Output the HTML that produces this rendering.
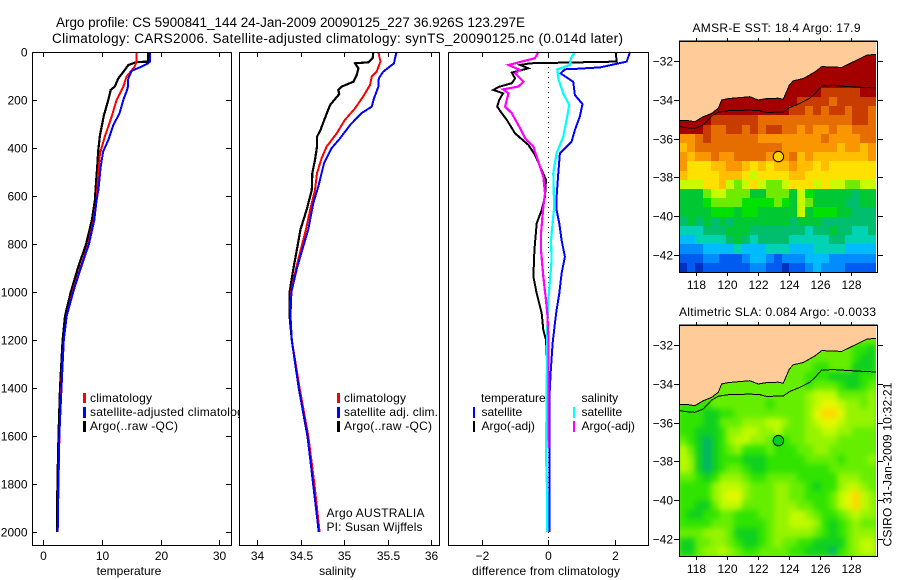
<!DOCTYPE html>
<html lang="en">
<head>
<meta charset="utf-8">
<title>Argo profile</title>
<style>
html,body{margin:0;padding:0;background:#fff;width:900px;height:580px;overflow:hidden}
svg{display:block}
text{font-family:"Liberation Sans",sans-serif;font-size:12px;fill:#000}
.frame{fill:none;stroke:#000;stroke-width:1;shape-rendering:crispEdges}
.mark{fill:none;stroke-linejoin:miter;shape-rendering:crispEdges}
.tick{stroke:#000;stroke-width:1;shape-rendering:crispEdges}
.key{shape-rendering:crispEdges}
</style>
</head>
<body>
<svg id="figure" width="900" height="580" viewBox="0 0 900 580" xmlns="http://www.w3.org/2000/svg">
  <defs>
    <clipPath id="clip-first-panel"><rect x="0" y="0" width="239" height="580"/></clipPath>
    <clipPath id="clip-sla-map"><rect x="679" y="325" width="198" height="231"/></clipPath>
    <filter id="sla-soft" x="-5%" y="-5%" width="110%" height="110%" color-interpolation-filters="sRGB">
      <feGaussianBlur stdDeviation="3"/>
    </filter>
  </defs>
  <text x="56" y="27" style="font-size:13.5px" textLength="469" lengthAdjust="spacing">Argo profile: CS 5900841_144 24-Jan-2009 20090125_227 36.926S 123.297E</text>
  <text x="52" y="43" style="font-size:13.5px" textLength="571" lengthAdjust="spacing">Climatology: CARS2006. Satellite-adjusted climatology: synTS_20090125.nc (0.014d later)</text>

  <g id="temp-legend" clip-path="url(#clip-first-panel)">
    <rect class="key" x="83" y="393" width="3" height="10" fill="#f00"/>
    <text x="90" y="402" textLength="62">climatology</text>
    <rect class="key" x="83" y="407" width="3" height="11" fill="#00f"/>
    <text x="90" y="416" textLength="160">satellite-adjusted climatology</text>
    <rect class="key" x="83" y="421" width="3" height="11" fill="#000"/>
    <text x="90" y="430" textLength="88">Argo(..raw -QC)</text>
  </g>
  <g id="sal-legend">
    <rect class="key" x="337" y="393" width="3" height="10" fill="#f00"/>
    <text x="344" y="402" textLength="62">climatology</text>
    <rect class="key" x="337" y="407" width="3" height="11" fill="#00f"/>
    <text x="344" y="416" textLength="94">satellite adj. clim.</text>
    <rect class="key" x="337" y="421" width="3" height="11" fill="#000"/>
    <text x="344" y="430" textLength="88">Argo(..raw -QC)</text>
    <text x="326.500" y="517" textLength="98">Argo AUSTRALIA</text>
    <text x="326.500" y="531" textLength="96">PI: Susan Wijffels</text>
  </g>
  <g id="diff-legend">
    <text x="481" y="402">temperature</text>
    <rect class="key" x="473" y="407" width="2" height="11" fill="#00f"/>
    <text x="481.500" y="416">satellite</text>
    <rect class="key" x="473" y="421" width="2" height="11" fill="#000"/>
    <text x="481.500" y="430">Argo(-adj)</text>
    <text x="581.500" y="402">salinity</text>
    <rect class="key" x="573" y="407" width="2" height="11" fill="#0ff"/>
    <text x="581.500" y="416">satellite</text>
    <rect class="key" x="573" y="421" width="2" height="11" fill="#f0f"/>
    <text x="581.500" y="430">Argo(-adj)</text>
  </g>

  <g id="temp-panel"></g>
  <g id="sal-panel"></g>
  <g id="diff-panel"></g>

  <rect class="frame" x="32.500" y="52.500" width="199" height="493"/>
  <rect class="frame" x="239.500" y="52.500" width="200" height="493"/>
  <rect class="frame" x="448.500" y="52.500" width="200" height="493"/>

  <text x="129" y="575" text-anchor="middle">temperature</text>
  <text x="337.500" y="575" text-anchor="middle">salinity</text>
  <text x="546" y="575" text-anchor="middle" textLength="148">difference from climatology</text>

  <text x="692.500" y="32" textLength="168">AMSR-E SST: 18.4 Argo: 17.9</text>
  <text x="679" y="316" textLength="197">Altimetric SLA: 0.084 Argo: -0.0033</text>
  <g id="sst-map"></g>
  <g id="sla-map"></g>
  <text transform="translate(891.500,546.500) rotate(-90)" textLength="164">CSIRO 31-Jan-2009 10:32:21</text>
</svg>

<script>
var depthTicks = [0, 200, 400, 600, 800, 1000, 1200, 1400, 1600, 1800, 2000];
var tempTicks = [0, 10, 20, 30];
var salTicks = [34, 34.5, 35, 35.5, 36];
var diffTicks = [-2, 0, 2];
var lonTicks = [118, 120, 122, 124, 126, 128];
var latTicks = [-32, -34, -36, -38, -40, -42];

var tempArgoDepths = [0, 40, 42, 54, 75, 110, 144, 158, 200, 262, 346, 408, 478, 575, 617, 700, 800, 900, 1000, 1100, 1200, 1400, 1600, 1800, 2000];
var tempArgoValues = [17.9, 17.9, 15.9, 14.5, 13.9, 12.8, 12.2, 11.5, 11.1, 10.35, 9.67, 9.39, 9.2, 8.9, 8.8, 8.3, 7.3, 5.9, 4.7, 3.7, 3.3, 2.85, 2.6, 2.4, 2.35];
var tempClimDepths = [0, 40, 61, 103, 144, 200, 270, 353, 422, 505, 617, 700, 800, 900, 1000, 1100, 1200, 1400, 1600, 1800, 2000];
var tempClimValues = [15.9, 15.9, 15.6, 14.2, 13.65, 12.5, 11.66, 10.5, 9.67, 9.39, 9.1, 8.6, 7.7, 6.3, 5.0, 4.0, 3.5, 3.05, 2.75, 2.6, 2.45];
var tempSatDepths = [0, 40, 47, 61, 78, 110, 151, 200, 256, 304, 367, 415, 478, 575, 617, 700, 800, 900, 1000, 1100, 1200, 1400, 1600, 1800, 2000];
var tempSatValues = [18.2, 18.2, 17.9, 16.8, 15.1, 14.5, 14.4, 13.65, 13, 11.95, 11.1, 10.2, 9.8, 9.4, 9.1, 8.7, 7.8, 6.4, 5.1, 4.0, 3.5, 3.1, 2.73, 2.56, 2.45];

var salArgoDepths = [0, 26, 43, 47, 68, 96, 124, 144, 158, 175, 221, 276, 325, 353, 394, 450, 505, 575, 658, 739, 800, 900, 1000, 1100, 1200, 1400, 1600, 1800, 2000];
var salArgoValues = [35.337, 35.33, 35.28, 35.126, 35.165, 35.146, 35.107, 34.973, 34.935, 34.946, 34.84, 34.78, 34.73, 34.69, 34.69, 34.667, 34.636, 34.63, 34.57, 34.5, 34.47, 34.42, 34.375, 34.375, 34.4, 34.48, 34.58, 34.65, 34.71];
var salClimDepths = [0, 19, 40, 82, 103, 137, 186, 235, 283, 339, 394, 443, 505, 575, 658, 739, 800, 900, 1000, 1100, 1200, 1400, 1600, 1800, 2000];
var salClimValues = [35.395, 35.406, 35.42, 35.375, 35.318, 35.3, 35.22, 35.126, 35.01, 34.916, 34.8, 34.743, 34.69, 34.667, 34.61, 34.563, 34.52, 34.45, 34.39, 34.385, 34.4, 34.49, 34.59, 34.66, 34.72];
var salSatDepths = [0, 26, 47, 82, 110, 144, 193, 228, 255, 304, 360, 401, 464, 561, 630, 739, 800, 900, 1000, 1100, 1200, 1400, 1600, 1800, 2000];
var salSatValues = [35.605, 35.586, 35.575, 35.45, 35.4, 35.395, 35.345, 35.318, 35.2, 35.07, 34.954, 34.858, 34.77, 34.705, 34.647, 34.59, 34.54, 34.46, 34.395, 34.385, 34.4, 34.48, 34.58, 34.645, 34.71];

var diffTempArgoDepths = [0, 40, 47, 54, 68, 86, 110, 130, 144, 158, 172, 200, 228, 255, 283, 339, 387, 429, 492, 533, 603, 658, 714, 825, 936, 1006, 1089, 1158, 1200, 1311, 1500];
var diffTempArgoValues = [2.03, 2.06, -0.55, -0.85, -0.6, -1.1, -1.0, -1.1, -1.46, -1.66, -1.36, -1.48, -1.54, -1.4, -1.25, -1.0, -0.6, -0.4, -0.2, -0.07, -0.1, -0.2, -0.35, -0.42, -0.45, -0.35, -0.2, -0.15, -0.07, -0.03, 0];
var diffTempSatDepths = [0, 40, 64, 71, 72, 89, 124, 179, 217, 269, 325, 374, 422, 505, 603, 658, 714, 784, 853, 922, 1006, 1075, 1131, 1214, 1339, 1448, 2000];
var diffTempSatValues = [2.46, 2.36, 1.56, 0.75, 0.5, 0.37, 0.75, 0.8, 1.03, 0.95, 0.8, 0.7, 0.35, 0.3, 0.25, 0.25, 0.33, 0.4, 0.5, 0.4, 0.33, 0.25, 0.2, 0.13, 0.07, 0.03, 0.03];
var diffSalSatDepths = [0, 26, 54, 72, 110, 172, 221, 283, 353, 422, 505, 603, 658, 714, 784, 867, 950, 1034, 1145, 1450, 1680, 1850, 2000];
var diffSalSatValues = [0.8, 0.68, 0.65, 0.27, 0.3, 0.45, 0.63, 0.55, 0.45, 0.25, 0.15, 0.17, 0.17, 0.13, 0.08, 0.1, 0.05, 0, -0.03, -0.05, -0.07, -0.03, -0.03];
var diffSalArgoDepths = [0, 26, 54, 75, 89, 124, 144, 156, 172, 228, 255, 318, 360, 394, 457, 519, 589, 645, 756, 825, 936, 1034, 1089, 1200, 1650];
var diffSalArgoValues = [-0.3, -0.4, -1.2, -0.85, -1, -0.75, -0.9, -1.36, -1.2, -1.3, -1.1, -0.85, -0.7, -0.45, -0.3, -0.15, -0.1, -0.15, -0.22, -0.22, -0.15, -0.07, -0.03, 0.01, 0.01];

var coastLons = [116.9, 117.38, 117.91, 118.45, 118.99, 119.42, 119.63, 120.06, 120.71, 121.46, 122.0, 122.54, 123.29, 123.61, 124.0, 124.26, 124.9, 125.66, 126.09, 127.38, 128.13, 128.99, 129.63];
var coastLats = [-35.06, -35.06, -35.13, -34.87, -34.7, -34.44, -34.01, -33.94, -33.89, -33.84, -34.01, -33.94, -33.92, -33.97, -33.24, -33.02, -32.9, -32.56, -32.29, -32.33, -32.04, -31.7, -31.65];
var shelfLons = [116.9, 117.38, 117.91, 118.45, 118.99, 119.42, 120.06, 121.46, 122.11, 122.54, 123.61, 124.04, 124.69, 125.33, 125.66, 126.09, 126.84, 127.91, 128.77, 129.63];
var shelfLats = [-35.38, -35.44, -35.47, -35.3, -34.84, -34.64, -34.56, -34.53, -34.56, -34.65, -34.63, -34.39, -34.18, -33.92, -33.67, -33.29, -33.27, -33.32, -33.36, -33.39];
var floatLon = 123.297;
var floatLat = -36.926;

var sstLevels = [
[15,15,15,15,15,15,15,15,15,15,15,15,15,15,15,15,15,15,15,15,15,15,15,15,15],
[15,15,15,15,15,15,15,15,15,15,15,15,15,15,15,15,15,15,15,15,15,15,15,15,15],
[15,15,15,15,15,15,15,15,15,15,15,15,15,15,15,15,15,15,15,15,15,15,15,15,15],
[15,15,15,15,15,15,15,15,15,15,15,15,15,15,15,15,15,15,15,15,15,15,15,15,15],
[15,15,15,15,15,15,15,15,15,15,15,15,15,15,15,15,15,15,15,15,15,15,15,15,15],
[15,15,15,15,15,15,15,15,15,15,15,15,15,15,15,15,15,15,14,14,14,14,14,15,15],
[15,15,15,15,15,15,15,15,15,15,15,15,15,15,15,14,14,14,14,13,14,14,14,14,14],
[15,15,15,15,15,15,15,15,15,15,15,15,15,15,14,14,13,14,13,14,14,13,14,14,13],
[15,15,15,15,14,14,14,14,14,14,13,13,13,13,13,13,13,13,13,13,13,13,14,14,13],
[15,15,15,14,13,13,14,14,13,14,13,14,14,13,13,12,13,12,12,13,12,12,13,13,13],
[12,12,13,14,13,13,13,13,13,13,12,12,12,12,12,12,12,12,13,12,12,12,12,13,13],
[11,12,13,13,13,13,13,13,13,13,13,13,13,12,12,12,12,12,12,12,11,12,12,11,12],
[12,11,12,12,13,12,12,13,13,13,13,12,12,12,13,11,12,11,11,11,11,11,11,11,12],
[12,10,10,10,11,11,12,12,11,10,11,10,11,11,12,11,11,10,11,10,10,10,10,10,10],
[11,10,10,10,10,11,11,11,10,9,10,10,10,10,11,11,10,10,10,10,10,10,10,10,10],
[9,9,9,10,10,11,9,8,9,10,9,8,8,9,10,10,10,9,10,9,9,8,8,9,9],
[6,6,6,8,9,9,8,8,8,6,6,8,8,8,6,9,7,6,6,6,6,6,5,6,6],
[6,6,6,7,8,8,8,8,7,7,7,7,8,7,6,9,8,6,6,6,6,5,5,6,6],
[6,6,6,6,7,7,7,6,7,7,6,6,6,6,6,9,6,7,7,7,6,6,5,5,5],
[5,6,5,6,5,6,5,6,6,6,6,6,6,6,5,6,6,6,5,5,5,5,5,5,5],
[4,4,4,5,5,5,6,6,6,5,5,5,5,5,5,5,4,5,5,6,5,5,4,4,5],
[3,3,4,4,4,4,5,6,5,4,5,5,5,5,4,4,4,4,4,5,5,4,4,4,4],
[2,2,2,3,3,3,3,4,3,3,3,4,4,4,3,3,3,4,4,4,4,3,3,3,3],
[1,1,1,2,2,1,1,1,2,3,3,2,1,2,2,2,3,3,3,2,2,2,2,2,2],
[0,1,0,1,1,1,1,1,1,2,2,1,1,0,1,1,2,3,2,2,2,1,1,1,1]
];

var slaLevels = [
[3,3,3,3,3,3,3,3,3,3,3,3,3,3,3,3,3,3,3,3,3,3,3,3,3],
[3,3,3,3,3,3,3,3,3,3,3,3,3,3,3,3,3,3,3,3,3,3,3,3,3],
[3,3,3,3,3,3,3,3,3,3,3,3,3,3,3,3,3,3,3,3,3,3,2,2,1],
[3,3,3,3,3,3,3,3,3,3,3,3,3,3,3,3,3,3,3,3,3,3,2,1,1],
[3,3,3,3,3,3,3,3,3,3,3,3,3,3,3,3,3,2,2,3,3,3,1,1,1],
[3,3,3,3,3,3,3,3,3,3,3,3,3,3,3,3,2,2,2,1,1,1,1,2,2],
[3,3,3,3,3,3,3,3,3,3,3,3,3,3,3,3,2,3,3,3,2,1,1,2,3],
[3,3,3,3,3,3,3,3,3,3,3,3,3,3,3,3,4,5,5,5,3,3,3,3,4],
[2,2,2,2,3,3,3,3,3,3,3,2,3,3,3,3,4,5,6,6,5,4,4,3,4],
[2,2,2,1,1,2,2,3,3,3,3,3,3,3,3,3,4,6,7,7,6,4,4,4,4],
[2,2,2,1,1,3,3,3,4,4,4,5,5,4,3,3,4,5,6,6,5,4,4,4,4],
[2,2,1,1,1,2,4,4,5,5,4,4,5,3,3,3,4,4,5,5,4,4,3,3,3],
[3,2,1,0,1,2,4,5,5,4,4,3,2,2,3,3,4,4,4,4,3,3,3,3,3],
[5,3,1,0,1,2,3,4,2,2,2,3,2,2,2,3,3,4,4,3,3,3,3,3,3],
[5,4,1,0,1,2,2,2,1,1,1,2,2,2,2,2,3,3,3,3,2,3,3,3,4],
[5,4,1,0,1,2,3,3,2,1,1,2,2,2,2,2,2,2,2,3,3,3,3,3,3],
[3,3,2,1,2,4,4,4,3,2,2,3,3,3,3,2,2,2,2,2,4,4,4,3,3],
[2,2,2,2,4,5,5,5,4,3,3,3,4,4,3,3,2,1,2,2,4,5,5,4,3],
[2,2,2,2,4,5,6,6,4,3,3,3,4,4,3,3,2,2,2,3,5,6,7,5,4],
[2,2,1,1,3,5,5,5,3,3,3,3,4,4,4,3,3,2,2,3,5,6,7,5,4],
[2,1,1,2,2,3,3,2,2,2,3,3,4,4,5,5,4,3,2,2,3,4,5,4,4],
[2,2,2,2,3,3,3,2,2,2,2,3,4,4,5,5,5,4,2,1,2,3,4,3,3],
[3,3,3,4,4,4,3,1,1,1,2,3,4,4,4,4,4,3,2,1,2,3,4,4,4],
[1,1,3,3,4,4,3,2,1,1,2,3,4,3,3,2,2,1,1,1,1,3,4,5,5],
[1,1,3,4,4,5,4,3,2,2,3,3,3,3,2,2,1,1,1,0,2,3,4,5,5]
];

var sstPalette = ['#0030c0','#005cf0','#008cff','#00bcff','#00d2b4','#00be6e','#00c832','#00e100','#6eeb00','#c8fa00','#ffe100','#ffbe00','#fa9600','#e66e00','#c83c00','#a50000'];
var slaPalette = ['#00b46e','#10d020','#30e400','#66ee00','#96f400','#c0fa00','#e6f800','#ffd800'];

var SVG_NS = 'http://www.w3.org/2000/svg';

function yDepth(d) { return 52 + d * 0.24; }
function xTemp(t) { return 43.3 + t * 5.86; }
function xSal(s) { return 257 + (s - 34) * 87; }
function xDiff(v) { return 548.3 + v * 33.2; }
function xLon(lon) { return 696.3 + (lon - 118) * 15.5; }
function ySstLat(lat) { return 61 + (-32 - lat) * 19.4; }
function ySlaLat(lat) { return 345 + (-32 - lat) * 19.4; }

function make(tag, parent) {
  var el = document.createElementNS(SVG_NS, tag);
  parent.appendChild(el);
  return el;
}

function drawTick(parent, x1, y1, x2, y2, name) {
  var el = make('line', parent);
  el.setAttribute('class', 'tick');
  el.setAttribute('x1', x1);
  el.setAttribute('y1', y1);
  el.setAttribute('x2', x2);
  el.setAttribute('y2', y2);
  
  
}

function drawLabel(parent, x, y, anchor, content, name) {
  var el = make('text', parent);
  el.setAttribute('x', x);
  el.setAttribute('y', y);
  el.setAttribute('text-anchor', anchor);
  el.textContent = String(content).replace('-', '\u2212');
  
  
}

function drawSeries(parent, depths, values, xFn, colour, width, name) {
  var el = make('polyline', parent);
  var pts = [];
  for (var i = 0; i < depths.length; i++) {
    pts.push(Math.round(xFn(values[i]) * 10) / 10 + ',' + Math.round(yDepth(depths[i]) * 10) / 10);
  }
  el.setAttribute('points', pts.join(' '));
  el.setAttribute('class', 'mark');
  el.setAttribute('stroke', colour);
  el.setAttribute('stroke-width', width);
  
  
}

function drawXTicks(parent, ticks, xFn, prefix) {
  ticks.forEach(function (t) {
    var x = Math.round(xFn(t)) + 0.5;
    drawTick(parent, x, 52, x, 57, prefix + '-top-tick');
    drawTick(parent, x, 545, x, 540, prefix + '-bottom-tick');
    drawLabel(parent, x, 560, 'middle', t, prefix + '-tick-label');
  });
}

function drawMapLayer(group, levels, palette, yFn, top, bottom, floatFill, prefix, soft) {
  var lonStart = 116.9, lonStep = (129.6 - 116.9) / 25;
  var latStart = -31, latStep = 0.475;

  if (soft) {
    var under = make('rect', group);
    under.setAttribute('x', 679);
    under.setAttribute('y', top);
    under.setAttribute('width', 197);
    under.setAttribute('height', bottom - top);
    under.setAttribute('fill', palette[3]);
    
    
  }

  var cellWrap = make('g', group);
  
  
  var cellGroup = make('g', cellWrap);
  
  
  if (soft) {
    cellWrap.setAttribute('clip-path', 'url(#clip-sla-map)');
    cellGroup.setAttribute('filter', 'url(#sla-soft)');
  }

  levels.forEach(function (row, r) {
    row.forEach(function (level, c) {
      var cell = make('rect', cellGroup);
      var x0 = Math.round(xLon(lonStart + c * lonStep));
      var x1 = Math.round(xLon(lonStart + (c + 1) * lonStep));
      var y0 = Math.round(yFn(latStart - r * latStep));
      var y1 = Math.round(yFn(latStart - (r + 1) * latStep));
      cell.setAttribute('x', x0);
      cell.setAttribute('y', y0);
      cell.setAttribute('width', x1 - x0);
      cell.setAttribute('height', y1 - y0);
      cell.setAttribute('fill', palette[level]);
      cell.setAttribute('shape-rendering', 'crispEdges');
      
      
    });
  });

  var land = make('polygon', group);
  var landPts = ['679.5,' + top, '877,' + top];
  for (var i = coastLons.length - 1; i >= 0; i--) {
    landPts.push(xLon(coastLons[i]).toFixed(1) + ',' + yFn(coastLats[i]).toFixed(1));
  }
  land.setAttribute('points', landPts.join(' '));
  land.setAttribute('fill', '#ffcc99');
  land.setAttribute('stroke', '#000');
  land.setAttribute('stroke-width', '1');
  land.setAttribute('shape-rendering', 'crispEdges');
  
  

  var shelf = make('polyline', group);
  var shelfPts = [];
  for (var s = 0; s < shelfLons.length; s++) {
    shelfPts.push(xLon(shelfLons[s]).toFixed(1) + ',' + yFn(shelfLats[s]).toFixed(1));
  }
  shelf.setAttribute('points', shelfPts.join(' '));
  shelf.setAttribute('fill', 'none');
  shelf.setAttribute('stroke', '#000');
  shelf.setAttribute('stroke-width', '1');
  shelf.setAttribute('shape-rendering', 'crispEdges');
  
  

  var dot = make('circle', group);
  dot.setAttribute('cx', xLon(floatLon).toFixed(1));
  dot.setAttribute('cy', yFn(floatLat).toFixed(1));
  dot.setAttribute('r', 5.2);
  dot.setAttribute('fill', floatFill);
  dot.setAttribute('stroke', '#000');
  dot.setAttribute('stroke-width', '1');
  
  

  var rightStrip = make('rect', group);
  rightStrip.setAttribute('x', 876);
  rightStrip.setAttribute('y', top);
  rightStrip.setAttribute('width', 1.5);
  rightStrip.setAttribute('height', bottom - top);
  rightStrip.setAttribute('fill', '#fff');
  
  

  var frame = make('rect', group);
  frame.setAttribute('class', 'frame');
  frame.setAttribute('x', 679.5);
  frame.setAttribute('y', top + 0.5);
  frame.setAttribute('width', 198);
  frame.setAttribute('height', bottom - top);
  
  

  lonTicks.forEach(function (lon) {
    var x = Math.round(xLon(lon)) + 0.5;
    drawTick(group, x, top - 3, x, top, prefix + '-top-tick');
    drawTick(group, x, bottom + 1, x, bottom + 4, prefix + '-bottom-tick');
    drawLabel(group, x, bottom + 17, 'middle', lon, prefix + '-longitude-label');
  });
  latTicks.forEach(function (lat) {
    var y = Math.round(yFn(lat)) + 0.5;
    drawTick(group, 674, y, 679, y, prefix + '-left-tick');
    drawTick(group, 878, y, 883, y, prefix + '-right-tick');
    drawLabel(group, 673, y + 4, 'end', lat, prefix + '-latitude-label');
  });
}

var tempPanel = document.getElementById('temp-panel');
drawSeries(tempPanel, tempArgoDepths, tempArgoValues, xTemp, '#000', 2.2, 'temperature-argo-line');
drawSeries(tempPanel, tempClimDepths, tempClimValues, xTemp, '#f00', 2, 'temperature-climatology-line');
drawSeries(tempPanel, tempSatDepths, tempSatValues, xTemp, '#00f', 2, 'temperature-satellite-line');
drawXTicks(tempPanel, tempTicks, xTemp, 'temperature');
depthTicks.forEach(function (d) {
  var y = Math.round(yDepth(d)) + 0.5;
  drawTick(tempPanel, 32, y, 37, y, 'depth-left-tick');
  drawTick(tempPanel, 231, y, 226, y, 'depth-right-tick');
  drawLabel(tempPanel, 27.5, y + 4, 'end', d, 'depth-tick-label');
});

var salPanel = document.getElementById('sal-panel');
drawSeries(salPanel, salArgoDepths, salArgoValues, xSal, '#000', 2.2, 'salinity-argo-line');
drawSeries(salPanel, salClimDepths, salClimValues, xSal, '#f00', 2, 'salinity-climatology-line');
drawSeries(salPanel, salSatDepths, salSatValues, xSal, '#00f', 2, 'salinity-satellite-line');
drawXTicks(salPanel, salTicks, xSal, 'salinity');

var diffPanel = document.getElementById('diff-panel');
var zeroLine = make('line', diffPanel);
zeroLine.setAttribute('x1', 548.5);
zeroLine.setAttribute('x2', 548.5);
zeroLine.setAttribute('y1', yDepth(0));
zeroLine.setAttribute('y2', 545);
zeroLine.setAttribute('stroke', '#000');
zeroLine.setAttribute('stroke-width', '1');
zeroLine.setAttribute('stroke-dasharray', '1 4');
zeroLine.setAttribute('shape-rendering', 'crispEdges');


drawSeries(diffPanel, diffTempArgoDepths, diffTempArgoValues, xDiff, '#000', 2, 'difference-temperature-argo-line');
drawSeries(diffPanel, diffTempSatDepths, diffTempSatValues, xDiff, '#00f', 2, 'difference-temperature-satellite-line');
drawSeries(diffPanel, diffSalSatDepths, diffSalSatValues, xDiff, '#0ff', 2.2, 'difference-salinity-satellite-line');
drawSeries(diffPanel, diffSalArgoDepths, diffSalArgoValues, xDiff, '#f0f', 2.2, 'difference-salinity-argo-line');
drawXTicks(diffPanel, diffTicks, xDiff, 'difference');

drawMapLayer(document.getElementById('sst-map'), sstLevels, sstPalette, ySstLat, 41, 272, '#ffd200', 'sst-map', false);
drawMapLayer(document.getElementById('sla-map'), slaLevels, slaPalette, ySlaLat, 325, 556, '#00cd28', 'sla-map', true);
</script>
</body>
</html>
